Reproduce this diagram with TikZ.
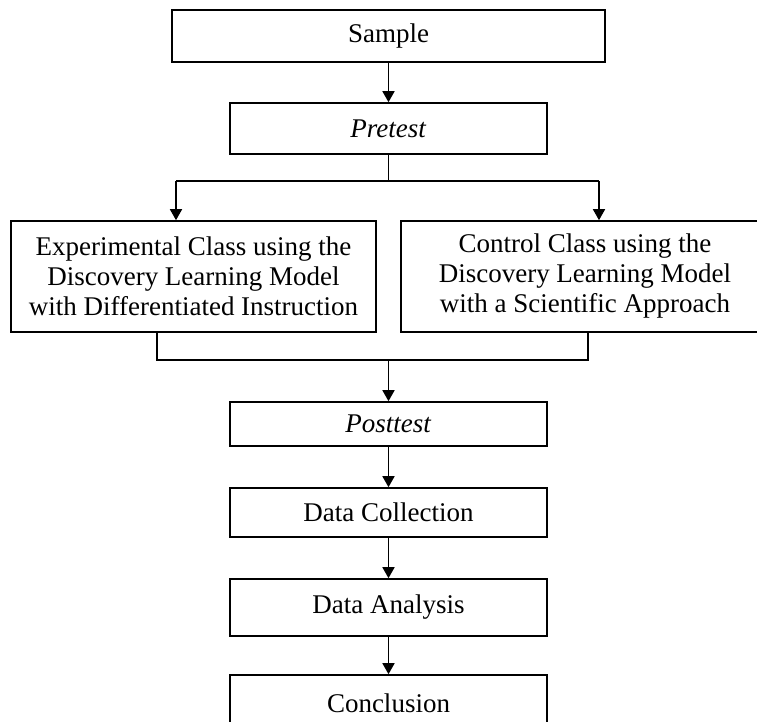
\documentclass[tikz,border=0pt]{standalone}
\usepackage{fontspec}
\setmainfont{Liberation Serif}
\usetikzlibrary{arrows.meta}

\begin{document}
\begin{tikzpicture}[x=0.5pt, y=-0.5pt,
    every node/.style={font=\fontsize{13.5}{15}\selectfont},
    stepbox/.style={draw, line width=0.8pt, inner sep=0pt, align=center, minimum width=158.5pt},
    arrow/.style={-{Triangle[length=5.5pt, width=6pt]}, line width=0.8pt},
    link/.style={line width=0.8pt}]
    \useasboundingbox (0,0) rectangle (757,722);
    \clip (0,0) rectangle (757,722);
    % main line
    \node[stepbox, minimum width=216.5pt, minimum height=26pt] (sample) at (388.5,36) {Sample};
    \node[stepbox, minimum height=25.5pt] (pretest) at (388.5,128.5) {\textit{Pretest}};
    % the two classes
    \node[stepbox, minimum width=182.5pt, minimum height=55.5pt] (expclass) at (193.5,276.5)
        {Experimental Class using the\\Discovery Learning Model\\with Differentiated Instruction};
    \node[stepbox, minimum width=184pt, minimum height=55.5pt] (ctrlclass) at (585,276.5)
        {Control Class using the\\Discovery Learning Model\\with a Scientific Approach};
    % after the classes
    \node[stepbox, minimum height=22pt] (posttest) at (388.5,424) {\textit{Posttest}};
    \node[stepbox, minimum height=24.5pt] (collect) at (388.5,512.5) {Data Collection};
    \node[stepbox, minimum height=28.5pt] (analysis) at (388.5,607.5) {Data Analysis};
    \node[stepbox, minimum height=28pt] (concl) at (388.5,703) {Conclusion};

    \coordinate (expin) at (176,181);
    \coordinate (ctrlin) at (599,181);
    \coordinate (expout) at (157,360);
    \coordinate (ctrlout) at (588,360);

    \draw[arrow] (sample) -- (pretest);
    \draw[link] (pretest.south) -- (pretest.south |- expin);
    \draw[arrow] (expin) -- (expclass.north -| expin);
    \draw[arrow] (ctrlin) -- (ctrlclass.north -| ctrlin);
    \draw[link] (expin) -- (ctrlin);
    \draw[link] (expclass.south -| expout) -- (expout) -- (ctrlout) -- (ctrlclass.south -| ctrlout);
    \draw[arrow] (posttest.north |- expout) -- (posttest);
    \draw[arrow] (posttest) -- (collect);
    \draw[arrow] (collect) -- (analysis);
    \draw[arrow] (analysis) -- (concl);
\end{tikzpicture}
\end{document}
